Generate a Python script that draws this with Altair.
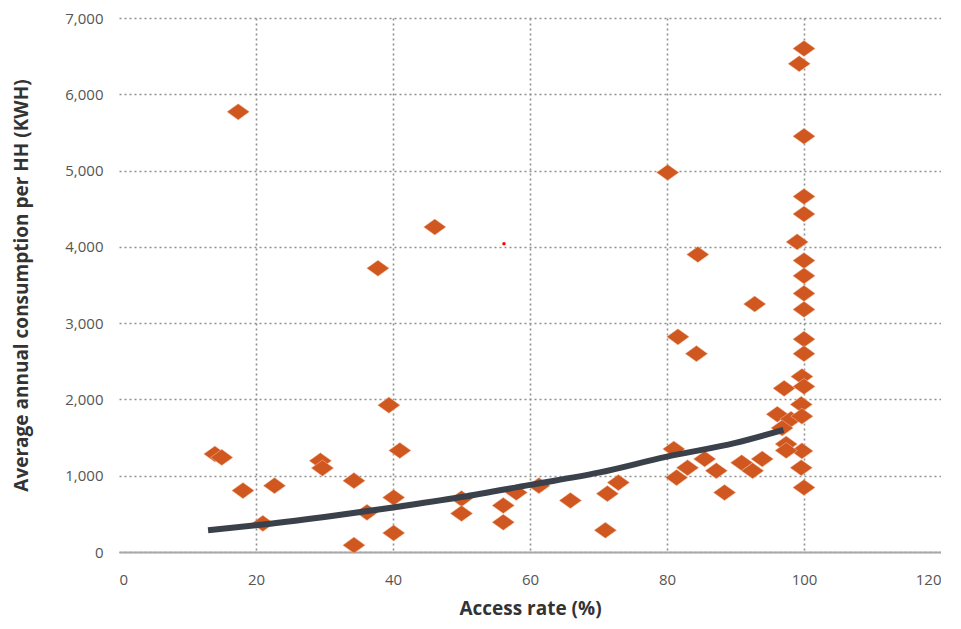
import altair as alt
import pandas as pd

# Scatter points: access rate (%) and average annual consumption per HH (kWh)
access = [17.4, 46.1, 37.8, 39.4, 41.0, 40.1, 40.1, 34.3, 34.3, 36.2,
          29.4, 29.7, 14.0, 15.0, 18.1, 22.7, 21.0, 50.0, 50.0, 56.1,
          56.1, 58.0, 61.3, 65.9, 71.3, 72.9, 71.0, 80.1, 84.5, 81.6,
          84.3, 92.8, 81.0, 81.4, 83.0, 85.5, 87.2, 88.4, 90.9, 92.5,
          93.9, 100, 99.3, 100, 100, 100, 99.0, 100, 100, 100,
          100, 100, 100, 99.7, 97.1, 100, 99.6, 96.1, 98.1, 99.7,
          96.8, 97.4, 99.7, 97.4, 99.6, 100]
consumption = [5770, 4260, 3720, 1925, 1330, 715, 250, 90, 935, 520,
               1195, 1100, 1285, 1240, 805, 870, 375, 700, 505, 610,
               390, 780, 870, 675, 765, 910, 285, 4975, 3900, 2820,
               2600, 3250, 1350, 975, 1105, 1220, 1065, 780, 1170, 1065,
               1220, 6600, 6400, 5450, 4660, 4430, 4065, 3820, 3620, 3390,
               3180, 2790, 2600, 2300, 2145, 2170, 1935, 1805, 1740, 1780,
               1625, 1415, 1325, 1330, 1105, 845]

# Trend line
trend_x = [13, 20, 30, 40, 50, 60, 70, 80, 90, 97]
trend_y = [286, 350, 460, 584, 720, 880, 1040, 1250, 1430, 1600]

# Stray red dot in the original
dot_x = [56.2]
dot_y = [4040]

x_ticks = [0, 20, 40, 60, 80, 100, 120]
y_ticks = [0, 1000, 2000, 3000, 4000, 5000, 6000, 7000]

pts = pd.DataFrame({"access": access, "cons": consumption})
trend = pd.DataFrame({"access": trend_x, "cons": trend_y})
dot = pd.DataFrame({"access": dot_x, "cons": dot_y})

FONT = "Open Sans"

x_enc = alt.X(
    "access:Q",
    scale=alt.Scale(domain=[0, 120], nice=False),
    axis=alt.Axis(
        values=x_ticks, title="Access rate (%)", ticks=False,
        labelPadding=20, titlePadding=12,
        grid=True, gridDash=[2, 3], gridColor="#8f8f8f", gridWidth=1.6,
        gridOpacity=alt.condition("datum.value == 0 || datum.value == 120", alt.value(0), alt.value(1)),
        domain=True, domainColor="#a8a8a8", domainWidth=2,
    ),
)
y_enc = alt.Y(
    "cons:Q",
    scale=alt.Scale(domain=[0, 7000], nice=False),
    axis=alt.Axis(
        values=y_ticks, format=",.0f", title="Average annual consumption per HH (KWH)",
        ticks=False, labelPadding=16, titlePadding=33,
        grid=True, gridDash=[2, 3], gridColor="#8f8f8f", gridWidth=1.6,
        domain=False,
    ),
)

diamond = "M-1,0L0,-0.72L1,0L0,0.72Z"

points = alt.Chart(pts).mark_point(
    shape=diamond, filled=True, color="#d0571f", opacity=1, size=500,
    stroke="#f3c6a8", strokeWidth=0.5,
).encode(x=x_enc, y=y_enc)

line = alt.Chart(trend).mark_line(
    color="#3b414b", strokeWidth=6, interpolate="monotone", strokeCap="butt"
).encode(x="access:Q", y="cons:Q")

red = alt.Chart(dot).mark_point(
    shape="circle", filled=True, color="#ff0000", size=12, opacity=1
).encode(x="access:Q", y="cons:Q")

chart = alt.layer(points, line, red).properties(
    width=822, height=534,
    padding={"left": 4, "top": 3, "right": 0, "bottom": 4},
).configure_view(stroke=None).configure_axis(
    labelFont=FONT, labelFontSize=15, labelColor="#555555",
    titleFont=FONT, titleFontSize=19, titleFontWeight="bold", titleColor="#333333",
)

chart.save("out.html", embed_options={"renderer": "svg", "actions": False})
